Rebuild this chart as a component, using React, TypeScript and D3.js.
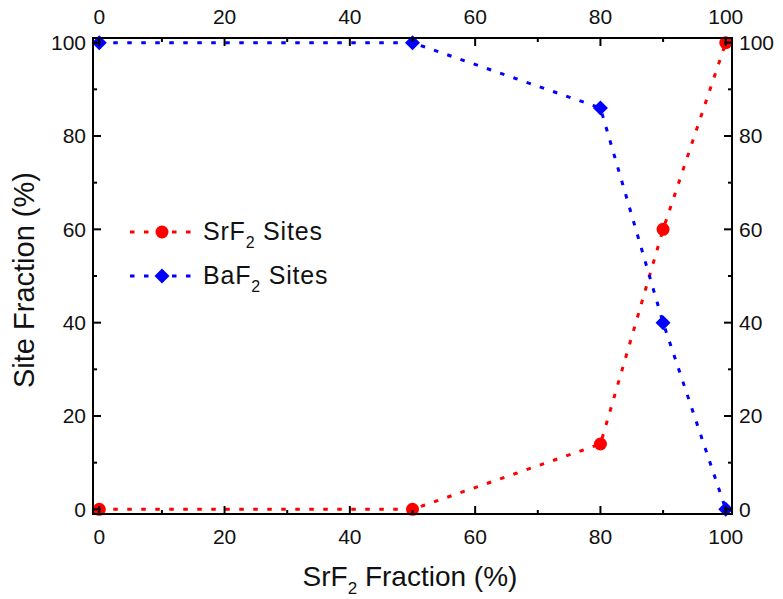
import React from "react";
import * as d3 from "d3";

const xValues = [0, 50, 80, 90, 100];
const srf2Sites = [0, 0, 14, 60, 100];
const baf2Sites = [100, 100, 86, 40, 0];
const majorTicks = [0, 20, 40, 60, 80, 100];
const minorTicks = [10, 30, 50, 70, 90];

const W = 783;
const H = 599;
const m = { left: 93, right: 51, top: 38, bottom: 85 };
const FONT = "'Liberation Sans', Arial, sans-serif";

export default function App() {
  const x = d3.scaleLinear().domain([-1, 101]).range([m.left, W - m.right]);
  const y = d3.scaleLinear().domain([-1, 101]).range([H - m.bottom, m.top]);
  const line = d3
    .line<number>()
    .x((_, i) => x(xValues[i]))
    .y((d) => y(d));
  const x0 = m.left, x1 = W - m.right, y0 = H - m.bottom, y1 = m.top;
  const major = 8, minor = 4;
  const dash = "4.5 9.5";
  const diamond = (cx: number, cy: number, r: number) =>
    `M${cx},${cy - r}L${cx + r},${cy}L${cx},${cy + r}L${cx - r},${cy}Z`;
  const tickFs = 21;

  const legendRows = [
    { name: "SrF", y: 232, base: 240, color: "#ff0000", shape: "circle" },
    { name: "BaF", y: 276, base: 284, color: "#0000ff", shape: "diamond" },
  ];

  return (
    <svg width={W} height={H} style={{ position: "absolute", left: 0, top: 0 }} fontFamily={FONT}>
      <rect width={W} height={H} fill="white" />
      {/* lines */}
      <path d={line(srf2Sites)!} fill="none" stroke="#ff0000" strokeWidth={3} strokeDasharray={dash} />
      <path d={line(baf2Sites)!} fill="none" stroke="#0000ff" strokeWidth={3} strokeDasharray={dash} />
      {srf2Sites.map((v, i) => (
        <circle key={"s" + i} cx={x(xValues[i])} cy={y(v)} r={6.5} fill="#ff0000" />
      ))}
      {baf2Sites.map((v, i) => (
        <path key={"b" + i} d={diamond(x(xValues[i]), y(v), 7.5)} fill="#0000ff" />
      ))}
      {/* frame */}
      <rect x={x0} y={y1} width={x1 - x0} height={y0 - y1} fill="none" stroke="black" strokeWidth={2} />
      {/* ticks */}
      {majorTicks.map((t) => (
        <g key={"M" + t} stroke="black" strokeWidth={2}>
          <line x1={x(t)} x2={x(t)} y1={y0} y2={y0 - major} />
          <line x1={x(t)} x2={x(t)} y1={y1} y2={y1 + major} />
          <line x1={x0} x2={x0 + major} y1={y(t)} y2={y(t)} />
          <line x1={x1} x2={x1 - major} y1={y(t)} y2={y(t)} />
        </g>
      ))}
      {minorTicks.map((t) => (
        <g key={"m" + t} stroke="black" strokeWidth={2}>
          <line x1={x(t)} x2={x(t)} y1={y0} y2={y0 - minor} />
          <line x1={x(t)} x2={x(t)} y1={y1} y2={y1 + minor} />
          <line x1={x0} x2={x0 + minor} y1={y(t)} y2={y(t)} />
          <line x1={x1} x2={x1 - minor} y1={y(t)} y2={y(t)} />
        </g>
      ))}
      {/* tick labels */}
      {majorTicks.map((t) => (
        <g key={"L" + t} fontSize={tickFs} fill="#111">
          <text x={x(t)} y={y0 + 30} textAnchor="middle">{t}</text>
          <text x={x(t)} y={y1 - 14} textAnchor="middle">{t}</text>
          <text x={x0 - 7} y={y(t)} dy="0.35em" textAnchor="end">{t}</text>
          <text x={x1 + 7} y={y(t)} dy="0.35em" textAnchor="start">{t}</text>
        </g>
      ))}
      {/* axis titles */}
      <text x={410} y={586} textAnchor="middle" fontSize={28} fill="#111">
        SrF<tspan fontSize={17} dy={8}>2</tspan><tspan dy={-8}> Fraction (%)</tspan>
      </text>
      <text transform={`translate(34,${280}) rotate(-90)`} textAnchor="middle" fontSize={29} fill="#111">
        Site Fraction (%)
      </text>
      {/* legend */}
      {legendRows.map((r) => (
        <g key={r.name}>
          <line x1={130} x2={192} y1={r.y} y2={r.y} stroke={r.color} strokeWidth={3} strokeDasharray={dash} />
          {r.shape === "circle" ? (
            <circle cx={162} cy={r.y} r={6.5} fill={r.color} />
          ) : (
            <path d={diamond(162, r.y, 7.5)} fill={r.color} />
          )}
          <text x={203} y={r.base} fontSize={25} letterSpacing={0.8} fill="#111">
            {r.name}<tspan fontSize={16} dy={8}>2</tspan><tspan dy={-8}> Sites</tspan>
          </text>
        </g>
      ))}
    </svg>
  );
}
